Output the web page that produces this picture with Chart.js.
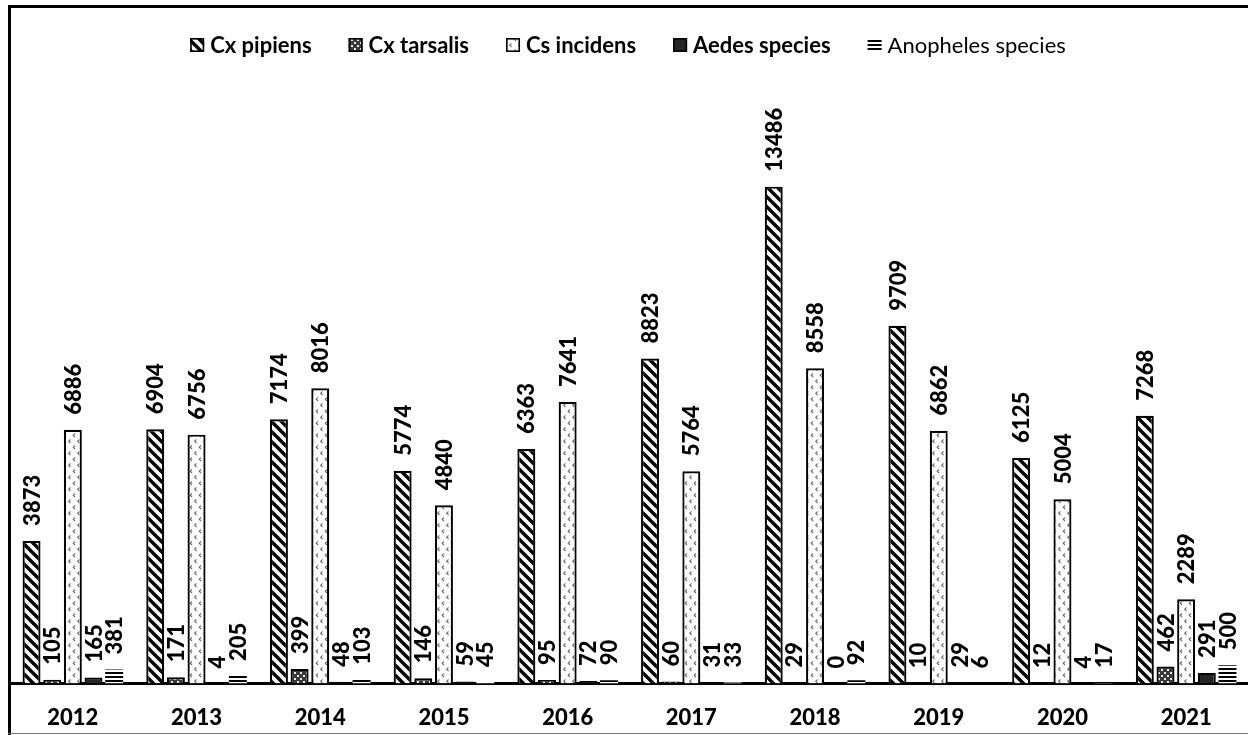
<!DOCTYPE html>
<html>
<head>
<meta charset="utf-8">
<script src="https://cdn.jsdelivr.net/npm/chart.js@4/dist/chart.umd.min.js"></script>
<style>
  html, body { margin: 0; padding: 0; background: #fff; }
  #wrap { position: relative; width: 1248px; height: 735px; overflow: hidden; }
  canvas { display: block; }
</style>
</head>
<body>
<div id="wrap"><canvas id="c" width="1248" height="755"></canvas></div>
<script>
// ---- data ----
const years = ['2012','2013','2014','2015','2016','2017','2018','2019','2020','2021'];
const seriesNames = ['Cx pipiens','Cx tarsalis','Cs incidens','Aedes species','Anopheles species'];
const cxPipiens  = [3873, 6904, 7174, 5774, 6363, 8823, 13486, 9709, 6125, 7268];
const cxTarsalis = [105, 171, 399, 146, 95, 60, 29, 10, 12, 462];
const csIncidens = [6886, 6756, 8016, 4840, 7641, 5764, 8558, 6862, 5004, 2289];
const aedes      = [165, 4, 48, 59, 72, 31, 0, 29, 4, 291];
const anopheles  = [381, 205, 103, 45, 90, 33, 92, 6, 17, 500];

const FONT = 'Lato, "Open Sans", sans-serif';

// ---- patterns ----
function makeTile(w, h, draw) {
  const c = document.createElement('canvas');
  c.width = w; c.height = h;
  const g = c.getContext('2d');
  draw(g, w, h);
  return c;
}
const tileStripe = makeTile(10, 10, (g, w, h) => {
  g.fillStyle = '#fff'; g.fillRect(0, 0, w, h);
  g.strokeStyle = '#000'; g.lineWidth = 3.4;
  g.beginPath();
  g.moveTo(-2, -2); g.lineTo(w + 2, h + 2);
  g.moveTo(-2 - w, -2); g.lineTo(2, h + 2);
  g.moveTo(w - 2, -2); g.lineTo(2 * w + 2, h + 2);
  g.stroke();
});
const tileCheck = makeTile(6, 6, (g, w, h) => {
  g.fillStyle = '#3a3a3a'; g.fillRect(0, 0, w, h);
  g.fillStyle = '#e8e8e8';
  g.fillRect(0, 0, 2, 2);
  g.fillRect(3, 3, 2, 2);
});
const tileDots = makeTile(9, 12, (g, w, h) => {
  g.fillStyle = '#fff'; g.fillRect(0, 0, w, h);
  g.strokeStyle = '#6a6a6a'; g.lineWidth = 1.1;
  g.beginPath();
  g.moveTo(3, 1.5); g.lineTo(1.2, 3.2); g.lineTo(3, 5);
  g.moveTo(7.5, 7.5); g.lineTo(5.7, 9.2); g.lineTo(7.5, 11);
  g.stroke();
});
const tileLines = makeTile(4, 4, (g, w, h) => {
  g.fillStyle = '#fff'; g.fillRect(0, 0, w, h);
  g.fillStyle = '#000'; g.fillRect(0, 0, w, 2);
});

const cvs = document.getElementById('c');
const ctx0 = cvs.getContext('2d');
const patStripe = ctx0.createPattern(tileStripe, 'repeat');
const patCheck = ctx0.createPattern(tileCheck, 'repeat');
const patDots = ctx0.createPattern(tileDots, 'repeat');
const patLines = ctx0.createPattern(tileLines, 'repeat');

const fills = [patStripe, patCheck, patDots, '#262626', patLines];
const borders = ['#000', '#000', '#000', '#000', 'rgba(0,0,0,0)'];
const legendBold = [true, true, true, true, false];

// ---- plugins ----
const frame = {
  id: 'frame',
  afterDraw(chart) {
    const c = chart.ctx;
    c.save();
    c.fillStyle = '#000';
    c.fillRect(8, 5, 1240, 3);
    c.fillRect(8, 5, 3, 730);
    c.fillStyle = '#777';
    c.fillRect(8, 733, 1240, 1);
    c.restore();
  }
};

const valueLabels = {
  id: 'valueLabels',
  afterDatasetsDraw(chart) {
    const c = chart.ctx;
    c.save();
    c.font = '900 22px ' + FONT;
    c.fillStyle = '#000';
    chart.data.datasets.forEach((ds, i) => {
      const meta = chart.getDatasetMeta(i);
      meta.data.forEach((bar, j) => {
        c.save();
        c.translate(bar.x, bar.y - 15);
        c.rotate(-Math.PI / 2);
        c.textAlign = 'left';
        c.textBaseline = 'middle';
        c.fillText(String(ds.data[j]), 0, 1);
        c.restore();
      });
    });
    c.restore();
  }
};

const customLegend = {
  id: 'customLegend',
  afterDraw(chart) {
    const c = chart.ctx;
    c.save();
    const box = 14, gapIcon = 6, gapItem = 37, cy = 45, cx = 628, size = 22;
    const items = chart.data.datasets.map((ds, i) => {
      c.font = (legendBold[i] ? 'bold ' : '') + size + 'px ' + FONT;
      return { w: c.measureText(ds.label).width, i };
    });
    const total = items.reduce((s, it) => s + box + gapIcon + it.w, 0) + gapItem * (items.length - 1);
    let x = cx - total / 2;
    items.forEach(it => {
      const ds = chart.data.datasets[it.i];
      c.fillStyle = fills[it.i];
      c.fillRect(x, cy - box / 2, box, box);
      if (it.i !== 4) {
        c.strokeStyle = '#000'; c.lineWidth = 1.6;
        c.strokeRect(x + 0.8, cy - box / 2 + 0.8, box - 1.6, box - 1.6);
      }
      c.font = (legendBold[it.i] ? 'bold ' : '') + size + 'px ' + FONT;
      c.fillStyle = '#000';
      c.textAlign = 'left';
      c.textBaseline = 'middle';
      c.fillText(ds.label, x + box + gapIcon, cy + 1);
      x += box + gapIcon + it.w + gapItem;
    });
    c.restore();
  }
};

const seriesData = [cxPipiens, cxTarsalis, csIncidens, aedes, anopheles];

new Chart(cvs, {
  type: 'bar',
  data: {
    labels: years,
    datasets: seriesData.map((d, i) => ({
      label: seriesNames[i],
      data: d,
      backgroundColor: fills[i],
      borderColor: borders[i],
      borderWidth: i === 4 ? 0 : 2.2,
      categoryPercentage: 0.835,
      barPercentage: 0.87
    }))
  },
  options: {
    responsive: false,
    animation: false,
    layout: { padding: { top: 94, left: 11, right: 0, bottom: 3 } },
    plugins: {
      legend: { display: false },
      tooltip: { enabled: false },
      title: { display: false }
    },
    scales: {
      x: {
        grid: { display: false, drawTicks: false },
        border: { display: true, color: '#000', width: 3 },
        ticks: { color: '#000', font: { family: FONT, size: 22, weight: '900' }, padding: 21, maxRotation: 0 }
      },
      y: {
        display: false,
        min: 0,
        max: 16000
      }
    }
  },
  plugins: [valueLabels, customLegend, frame]
});
</script>
</body>
</html>
